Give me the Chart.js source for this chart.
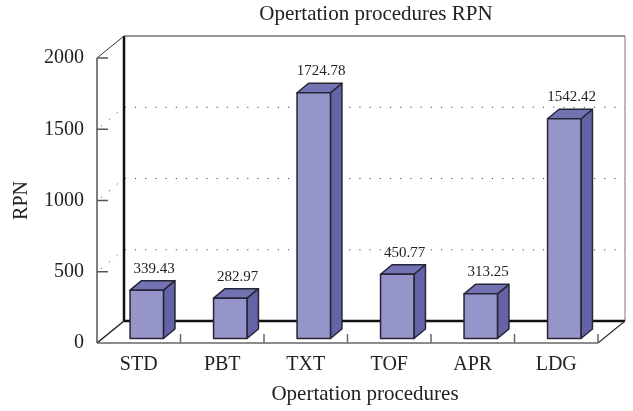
<!DOCTYPE html>
<html>
<head>
<meta charset="utf-8">
<script src="https://cdn.jsdelivr.net/npm/chart.js@4"></script>
<style>
  html, body { margin: 0; padding: 0; background: #fff; }
</style>
</head>
<body>
<canvas id="rpnChart" width="633" height="411"></canvas>
<script>
// chart data
const procedures = ['STD', 'PBT', 'TXT', 'TOF', 'APR', 'LDG'];
const rpnValues = [339.43, 282.97, 1724.78, 450.77, 313.25, 1542.42];
const gridValues = [500, 1000, 1500];
const chartTitle = 'Opertation procedures RPN';
const xTitle = 'Opertation procedures';
const yTitle = 'RPN';

const serif = 'Liberation Serif';
const ink = '#222';

// 3d look: wall depth and bar depth (pixels)
const wall = { dx: 27, dy: -22 };
const barShift = { dx: 8, dy: -4.5 };
const barDepth = { dx: 11.5, dy: -9.5 };
const faceColors = { front: '#9595c9', top: '#7373b3', side: '#6363a6', edge: '#262636' };

function line(ctx, x1, y1, x2, y2, color, width) {
    ctx.beginPath();
    ctx.strokeStyle = color;
    ctx.lineWidth = width;
    ctx.moveTo(x1, y1);
    ctx.lineTo(x2, y2);
    ctx.stroke();
}

function poly(ctx, pts, fill) {
    ctx.beginPath();
    ctx.moveTo(pts[0][0], pts[0][1]);
    for (let i = 1; i < pts.length; i++) ctx.lineTo(pts[i][0], pts[i][1]);
    ctx.closePath();
    ctx.fillStyle = fill;
    ctx.fill();
    ctx.stroke();
}

const box3d = {
    id: 'box3d',
    beforeDatasetsDraw(chart) {
        const { ctx, chartArea: a, scales: { x, y } } = chart;
        const bl = a.left + wall.dx, br = a.right + wall.dx;
        const bt = a.top + wall.dy, bb = a.bottom + wall.dy;
        ctx.save();

        // dotted grid: side wall diagonal + back wall
        ctx.setLineDash([1.2, 9]);
        gridValues.forEach(v => {
            const py = y.getPixelForValue(v);
            ctx.beginPath();
            ctx.strokeStyle = '#444';
            ctx.lineWidth = 1;
            ctx.moveTo(a.left + 4, py - 3);
            ctx.lineTo(bl, py + wall.dy);
            ctx.lineTo(br, py + wall.dy);
            ctx.stroke();
        });
        ctx.setLineDash([]);

        // back wall
        line(ctx, bl, bt, br, bt, '#333', 1);
        line(ctx, br, bt, br, bb, '#777', 1);
        line(ctx, bl, bt, bl, bb, '#111', 2.5);
        line(ctx, bl, bb, br, bb, '#111', 2.5);

        // side wall top and floor
        line(ctx, a.left, a.top, bl, bt, '#333', 1);
        line(ctx, a.left, a.bottom, bl, bb, '#222', 1.5);
        line(ctx, a.right, a.bottom, br, bb, '#333', 1.2);
        line(ctx, a.left, a.bottom, a.right, a.bottom, '#666', 1.5);
        line(ctx, a.left, a.top, a.left, a.bottom, '#555', 1.5);

        // y tick marks
        y.ticks.forEach(t => {
            if (t.value === 0) return;
            const py = y.getPixelForValue(t.value);
            line(ctx, a.left, py, a.left + 11, py, '#555', 1.5);
        });

        // x tick marks at category boundaries
        const step = (a.right - a.left) / procedures.length;
        for (let i = 1; i <= procedures.length; i++) {
            const px = x.getPixelForValue(i - 1) + step / 2;
            line(ctx, px, a.bottom, px, a.bottom - 9, '#666', 1.5);
        }
        ctx.restore();
    },
    afterDatasetsDraw(chart) {
        const { ctx } = chart;
        const meta = chart.getDatasetMeta(0);
        ctx.save();
        ctx.lineJoin = 'round';
        ctx.strokeStyle = faceColors.edge;
        ctx.lineWidth = 1.5;
        meta.data.forEach((bar, i) => {
            const p = bar.getProps(['x', 'y', 'base', 'width'], true);
            const l = p.x - p.width / 2 + barShift.dx;
            const r = l + p.width;
            const t = p.y + barShift.dy;
            const b = p.base + barShift.dy;
            const dx = barDepth.dx, dy = barDepth.dy;
            poly(ctx, [[r, t], [r + dx, t + dy], [r + dx, b + dy], [r, b]], faceColors.side);
            poly(ctx, [[l, t], [r, t], [r + dx, t + dy], [l + dx, t + dy]], faceColors.top);
            poly(ctx, [[l, t], [r, t], [r, b], [l, b]], faceColors.front);

            ctx.font = '15px "' + serif + '"';
            ctx.fillStyle = ink;
            ctx.textAlign = 'center';
            ctx.textBaseline = 'alphabetic';
            ctx.fillText(rpnValues[i].toFixed(2), (l + r) / 2 + dx / 2 + 1.5, t + dy - 8);
        });
        ctx.restore();
    },
    afterDraw(chart) {
        const { ctx } = chart;
        ctx.save();
        ctx.fillStyle = ink;
        ctx.textAlign = 'center';
        ctx.textBaseline = 'alphabetic';
        ctx.font = '21px "' + serif + '"';
        ctx.fillText(chartTitle, 376, 20);
        ctx.fillText(xTitle, 365, 400);
        ctx.restore();
    }
};

const tickFont = { family: serif, size: 20 };

new Chart(document.getElementById('rpnChart'), {
    type: 'bar',
    data: {
        labels: procedures,
        datasets: [{
            label: yTitle,
            data: rpnValues,
            backgroundColor: 'rgba(0,0,0,0)',
            borderWidth: 0,
            categoryPercentage: 1,
            barPercentage: 0.4
        }]
    },
    options: {
        responsive: false,
        animation: false,
        layout: { padding: { top: 58, right: 35, bottom: 0, left: 0 } },
        plugins: {
            legend: { display: false },
            tooltip: { enabled: false }
        },
        scales: {
            x: {
                grid: { display: false, drawTicks: false },
                border: { display: false },
                ticks: { padding: 10, color: ink, font: tickFont },
                afterFit: (scale) => { scale.height = 68; }
            },
            y: {
                min: 0,
                max: 2000,
                grid: { display: false, drawTicks: false },
                border: { display: false },
                ticks: { stepSize: 500, padding: 13, color: ink, font: tickFont, callback: (v) => String(v) },
                title: { display: true, text: yTitle, color: ink, font: tickFont, padding: { top: 10, bottom: 0 } },
                afterFit: (scale) => { scale.width = 97; }
            }
        }
    },
    plugins: [box3d]
});
</script>
</body>
</html>
